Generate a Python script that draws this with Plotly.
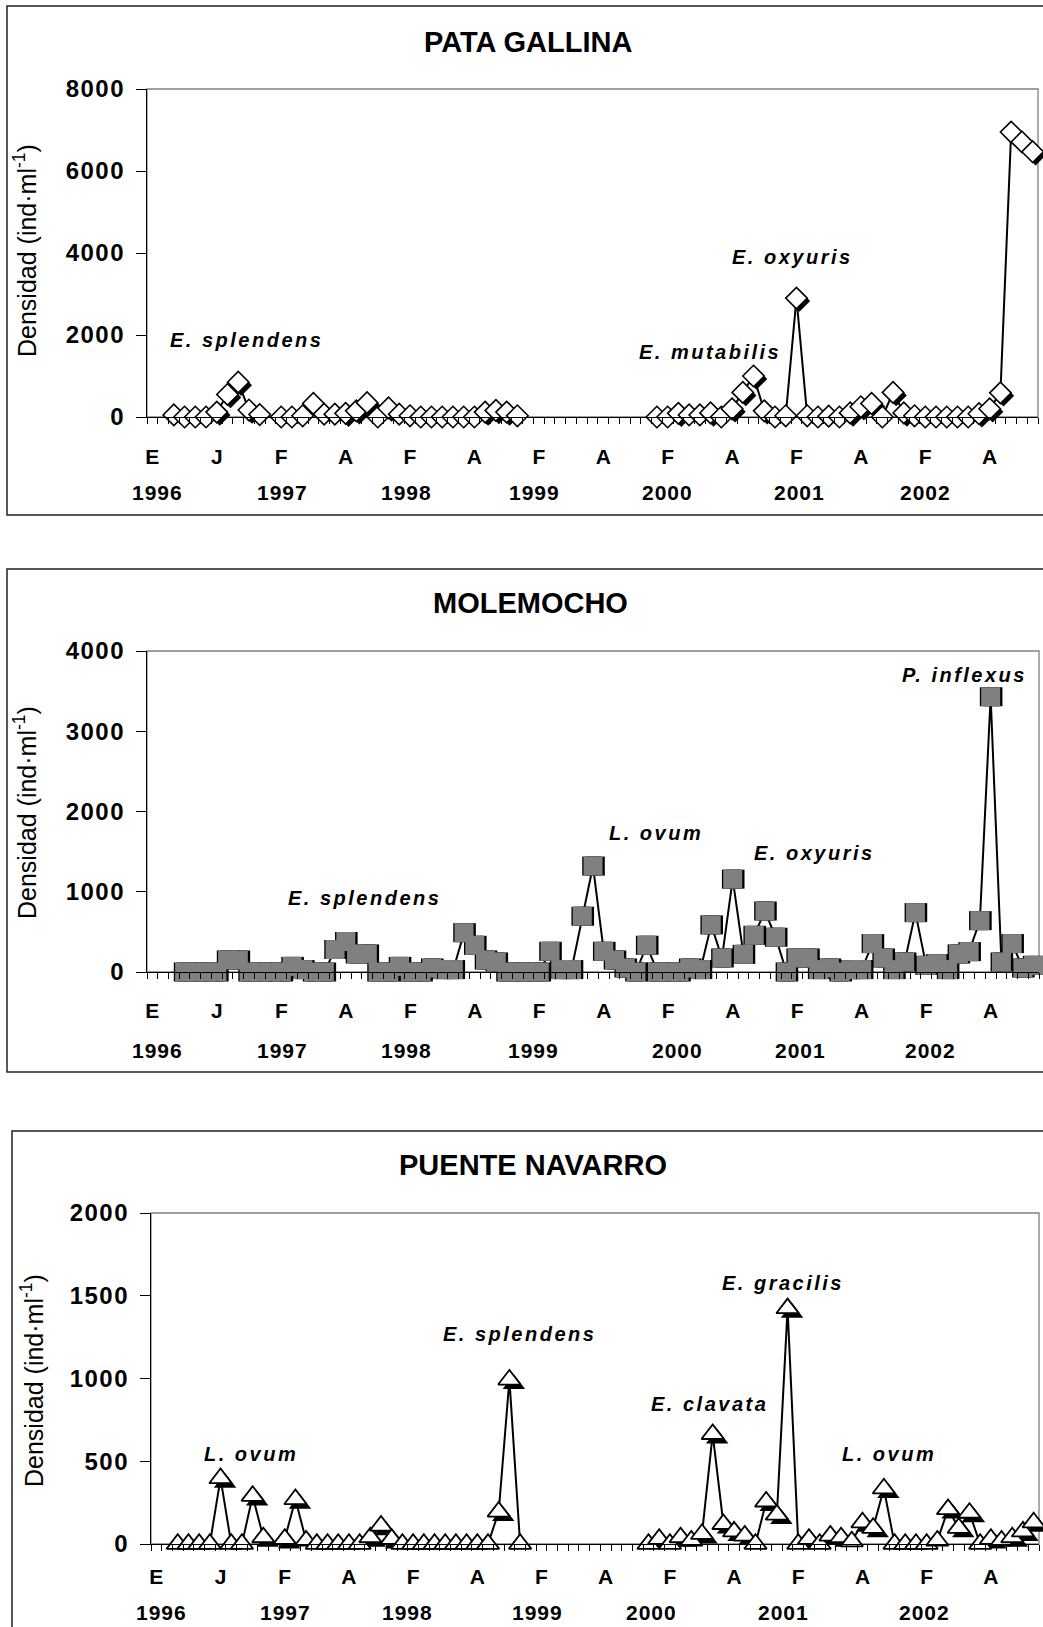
import plotly.graph_objects as go

W, H = 1043, 1627
FONT = "Arial, 'Liberation Sans', Helvetica, sans-serif"

# ---------------- data ----------------
N = None
month_index = list(range(83))          # monthly categories, Jan 1996 ... Nov 2002
month_tickvals = list(range(0, 79, 6))
month_ticktext = ["E", "J", "F", "A", "F", "A", "F", "A", "F", "A", "F", "A", "F", "A"]
year_labels = ["1996", "1997", "1998", "1999", "2000", "2001", "2002"]

pata_gallina = [
    N, N, 50, 0, 0, 0, 120, 550, 850, 170, 60, N,
    0, 0, 30, 330, 70, 70, 90, 150, 350, 0, 220, 70,
    30, 0, 0, 0, 0, 0, 0, 120, 160, 120, 30, N,
    N, N, N, N, N, N, N, N, N, N, N, 0,
    0, 90, 50, 50, 100, 0, 200, 600, 1000, 150, 0, 30,
    2900, 30, 0, 20, 0, 100, 250, 330, 0, 600, 100, 30,
    0, 0, 0, 0, 0, 80, 200, 590, 6950, 6710, 6470,
]

molemocho = [
    N, N, N, 0, 0, 0, 0, 150, 150, 0, 0, 0,
    0, 70, 30, 0, 0, 280, 380, 225, 225, 0, 0, 70,
    0, 0, 50, 30, 30, 490, 333, 150, 125, 0, 0, 0,
    0, 258, 30, 30, 695, 1320, 258, 150, 50, 0, 333, 0,
    0, 0, 50, 30, 587, 175, 1157, 220, 457, 760, 433, 0,
    175, 175, 30, 50, 0, 30, 30, 354, 175, 30, 125, 740,
    83, 104, 30, 225, 254, 640, 3430, 125, 354, 50, 83,
]

puente_navarro = [
    N, N, 0, 0, 0, 0, 397, 0, 0, 290, 40, N,
    30, 270, 20, 0, 0, 0, 0, 0, 40, 110, 30, 0,
    0, 0, 0, 0, 0, 0, 0, 0, 195, 993, 0, N,
    N, N, N, N, N, N, N, N, N, N, 0, 30,
    0, 40, 20, 60, 664, 120, 75, 50, 0, 256, 177, 1424,
    0, 30, 0, 50, 40, 15, 130, 97, 335, 0, 0, 0,
    0, 20, 210, 97, 188, 0, 30, 20, 40, 75, 130,
]

# ---------------- layout geometry (pixels) ----------------
panels = [
    dict(title="PATA GALLINA", values=pata_gallina, ymax=8000, dtick=2000,
         plot=(147, 89, 1038, 417), frame=(7, 6, 1100, 515),
         title_xy=(528, 42), ytitle_xy=(25, 251), year_y=492,
         year_x=[0.5, 12.1, 23.7, 35.6, 48.0, 60.3, 72.0], standoff=15,
         symbol="diamond", size=16.5, fill="white", mline=1.6,
         shadows=[(3.0, 3.0)],
         notes=[("E. splendens", 246, 340), ("E. mutabilis", 710, 352),
                ("E. oxyuris", 792, 257)]),
    dict(title="MOLEMOCHO", values=molemocho, ymax=4000, dtick=1000,
         plot=(147, 651, 1039, 972), frame=(7, 569, 1100, 1072),
         title_xy=(530, 603), ytitle_xy=(25, 813), year_y=1050,
         year_x=[0.5, 12.1, 23.6, 35.5, 48.9, 60.3, 72.4], standoff=14,
         symbol="square", size=19, fill="#808080", mline=0,
         shadows=[(-1.3, 0.0), (2.3, 0.0)],
         notes=[("E. splendens", 364, 898), ("L. ovum", 656, 833),
                ("E. oxyuris", 814, 853), ("P. inflexus", 964, 675)]),
    dict(title="PUENTE NAVARRO", values=puente_navarro, ymax=2000, dtick=500,
         plot=(151, 1213, 1039, 1544), frame=(12, 1131, 1100, 1700),
         title_xy=(533, 1165), ytitle_xy=(32, 1381), year_y=1612,
         year_x=[0.5, 12.1, 23.5, 35.6, 46.3, 58.6, 71.8], standoff=8,
         symbol="triangle-up", size=19.5, fill="white", mline=1.8,
         shadows=[(4.5, 4.5)],
         notes=[("L. ovum", 251, 1454), ("E. splendens", 519, 1334),
                ("E. clavata", 709, 1404), ("E. gracilis", 783, 1283),
                ("L. ovum", 889, 1454)]),
]


def px(x):
    return x / W


def py(y):
    return 1 - y / H


def spaced(txt, sp):
    return "<span style='letter-spacing:%spx'>%s</span>" % (sp, txt)


fig = go.Figure()
layout = dict(
    width=W, height=H, autosize=False,
    margin=dict(l=0, r=0, t=0, b=0, pad=0, autoexpand=False),
    paper_bgcolor="white", plot_bgcolor="white", showlegend=False,
    font=dict(family=FONT, color="black"),
)
shapes, annotations = [], []

for k, p in enumerate(panels, start=1):
    xa = "x" if k == 1 else f"x{k}"
    ya = "y" if k == 1 else f"y{k}"
    x0, y0, x1, y1 = p["plot"]
    cat_px = (x1 - x0) / 83.0
    unit_px = (y1 - y0) / p["ymax"]
    vals = p["values"]

    # connecting line
    fig.add_trace(go.Scatter(
        x=month_index, y=vals, mode="lines", xaxis=xa, yaxis=ya,
        line=dict(color="black", width=2), connectgaps=False,
        cliponaxis=False, hoverinfo="skip"))
    # marker shadows (offset copies of the same data)
    for dx, dy in p["shadows"]:
        sx = [i + dx / cat_px for i in month_index]
        sy = [None if v is None else v - dy / unit_px for v in vals]
        fig.add_trace(go.Scatter(
            x=sx, y=sy, mode="markers", xaxis=xa, yaxis=ya,
            marker=dict(symbol=p["symbol"], size=p["size"], color="black",
                        line=dict(width=0)),
            cliponaxis=False, hoverinfo="skip"))
    # markers
    fig.add_trace(go.Scatter(
        x=month_index, y=vals, mode="markers", xaxis=xa, yaxis=ya,
        marker=dict(symbol=p["symbol"], size=p["size"], color=p["fill"],
                    line=dict(width=p["mline"], color="black")),
        cliponaxis=False))

    ytv = list(range(0, p["ymax"] + 1, p["dtick"]))
    layout["xaxis" if k == 1 else f"xaxis{k}"] = dict(
        domain=[px(x0), px(x1)], range=[-0.5, 82.5], anchor=ya,
        automargin=False,
        tickmode="array", tickvals=month_tickvals, ticktext=month_ticktext,
        ticks="outside", ticklen=6, tickcolor="rgba(0,0,0,0)",
        ticklabelstandoff=p["standoff"],
        tickfont=dict(family=FONT, size=21, color="black", weight="bold"),
        minor=dict(ticks="outside", tickmode="linear", tick0=-0.5, dtick=1,
                   ticklen=6, tickwidth=1, tickcolor="black", showgrid=False),
        showline=True, linecolor="black", linewidth=1.3,
        showgrid=False, zeroline=False, fixedrange=True)
    layout["yaxis" if k == 1 else f"yaxis{k}"] = dict(
        domain=[py(y1), py(y0)], range=[0, p["ymax"]], anchor=xa,
        automargin=False,
        tickmode="array", tickvals=ytv, ticktext=[spaced(str(v), 1.5) for v in ytv],
        ticks="outside", ticklen=10, tickwidth=1, tickcolor="black",
        ticklabelstandoff=6,
        tickfont=dict(family=FONT, size=24, color="black", weight="bold"),
        showline=True, linecolor="black", linewidth=1.3,
        showgrid=False, zeroline=False, fixedrange=True)

    # gray top/right border of plot area
    shapes.append(dict(type="rect", xref=f"{xa} domain", yref=f"{ya} domain",
                       x0=0, x1=1, y0=0, y1=1, layer="below",
                       line=dict(color="#808080", width=1.3)))
    # outer frame
    fx0, fy0, fx1, fy1 = p["frame"]
    shapes.append(dict(type="rect", xref="paper", yref="paper",
                       x0=px(fx0), x1=px(fx1), y0=py(fy1), y1=py(fy0),
                       line=dict(color="#222222", width=1.5)))
    # title
    tx, ty = p["title_xy"]
    annotations.append(dict(
        text="<b>" + p["title"] + "</b>", xref="paper", yref="paper",
        x=px(tx), y=py(ty), xanchor="center", yanchor="middle",
        showarrow=False, font=dict(family=FONT, size=29, color="black")))
    # y title
    yx, yy = p["ytitle_xy"]
    annotations.append(dict(
        text="Densidad (ind·ml<sup>-1</sup>)", xref="paper", yref="paper",
        x=px(yx), y=py(yy), xanchor="center", yanchor="middle", textangle=-90,
        showarrow=False, font=dict(family=FONT, size=25, color="black")))
    # year labels
    for lab, xv in zip(year_labels, p["year_x"]):
        annotations.append(dict(
            text="<b>" + spaced(lab, 1) + "</b>", xref=xa, yref="paper",
            x=xv, y=py(p["year_y"]), xanchor="center", yanchor="middle",
            showarrow=False, font=dict(family=FONT, size=21, color="black")))
    # species notes
    for txt, nx, ny in p["notes"]:
        annotations.append(dict(
            text="<b><i>" + spaced(txt, 2.5) + "</i></b>",
            xref="paper", yref="paper", x=px(nx), y=py(ny),
            xanchor="center", yanchor="middle", showarrow=False,
            font=dict(family=FONT, size=20, color="black")))

layout["shapes"] = shapes
layout["annotations"] = annotations
fig.update_layout(**layout)
fig.write_html("out.html", config={"displayModeBar": False},
               post_script="document.body.style.margin='0px';")
